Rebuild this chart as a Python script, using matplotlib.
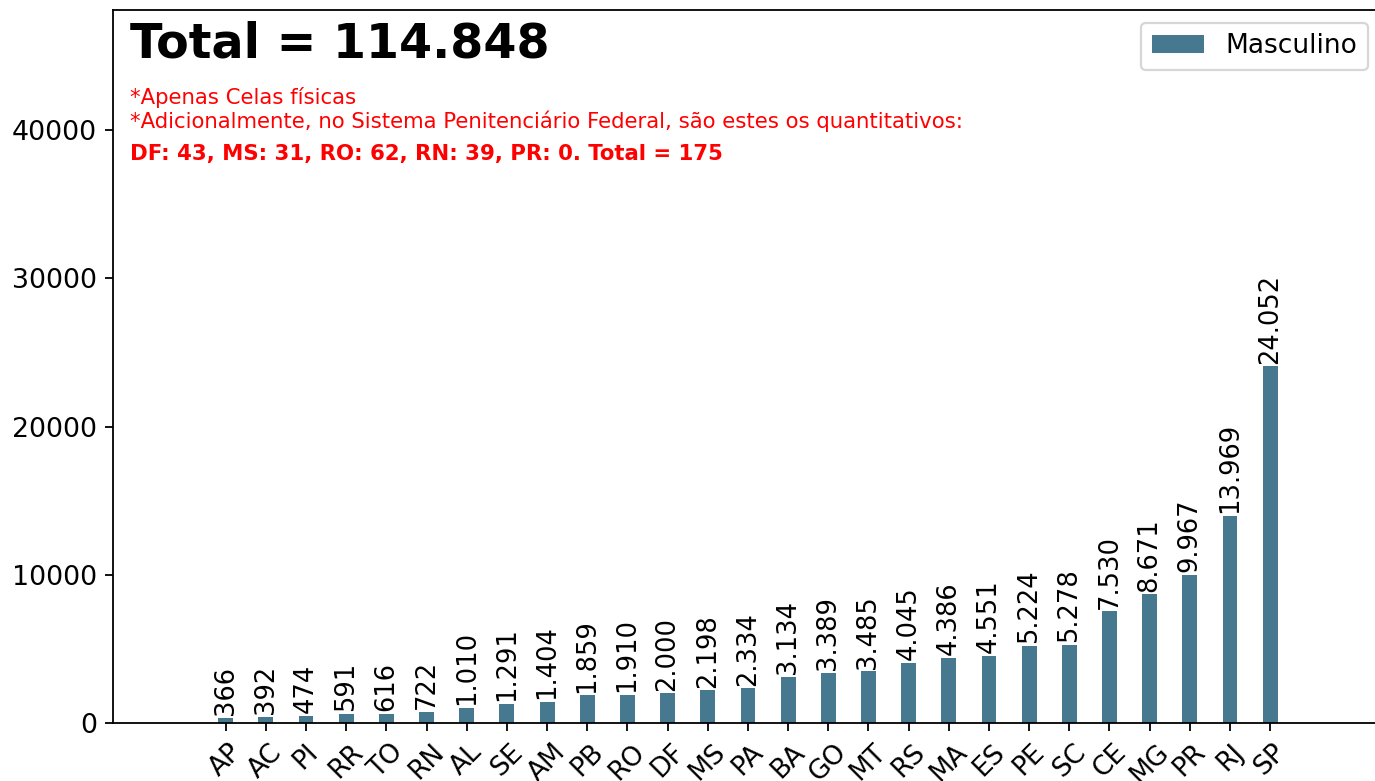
import numpy as np
import matplotlib.pyplot as plt

# dados (celas masculinas por UF)
ufs = ['AP', 'AC', 'PI', 'RR', 'TO', 'RN', 'AL', 'SE', 'AM', 'PB', 'RO', 'DF', 'MS', 'PA',
       'BA', 'GO', 'MT', 'RS', 'MA', 'ES', 'PE', 'SC', 'CE', 'MG', 'PR', 'RJ', 'SP']
masculino = [366, 392, 474, 591, 616, 722, 1010, 1291, 1404, 1859, 1910, 2000, 2198, 2334,
             3134, 3389, 3485, 4045, 4386, 4551, 5224, 5278, 7530, 8671, 9967, 13969, 24052]
yticks = [0, 10000, 20000, 30000, 40000]

nota1 = '*Apenas Celas físicas'
nota2 = '*Adicionalmente, no Sistema Penitenciário Federal, são estes os quantitativos:'
nota3 = 'DF: 43, MS: 31, RO: 62, RN: 39, PR: 0. Total = 175'


def fmt(v):
    return f'{v:,}'.replace(',', '.')


# escala ~1.6 (equivalente a dpi 160)
plt.rcParams['axes.linewidth'] = 1.3
plt.rcParams['xtick.major.size'] = 6
plt.rcParams['ytick.major.size'] = 6
plt.rcParams['xtick.major.width'] = 1.3
plt.rcParams['ytick.major.width'] = 1.3
plt.rcParams['xtick.major.pad'] = 5.6
plt.rcParams['ytick.major.pad'] = 5.6
plt.rcParams['legend.framealpha'] = 0.8

fig = plt.figure(figsize=(13.75, 7.81), dpi=100)
# eixo ultrapassa a borda direita da figura (como no original)
ax = fig.add_axes([0.0822, 0.0743, 0.9222, 0.9135])

x = np.arange(len(ufs))
bars = ax.bar(x, masculino, width=0.37, color='#46788f', label='Masculino')
ax.bar_label(bars, labels=[fmt(v) for v in masculino], rotation=90, padding=2, fontsize=18.5)

ax.set_xticks(x)
ax.set_xticklabels(ufs, rotation=45, fontsize=19)
ax.set_yticks(yticks)
ax.tick_params(axis='y', labelsize=19.3)
ax.set_xlim(-2.805, 28.76)
ax.set_ylim(0, 48130)

ax.text(0.0135, 0.951, f'Total = {fmt(sum(masculino))}', transform=ax.transAxes,
        fontsize=34.3, fontweight='bold', va='center', ha='left')
ax.text(0.0135, 0.876, nota1, transform=ax.transAxes, fontsize=15.3, color='red', va='center')
ax.text(0.0135, 0.844, nota2, transform=ax.transAxes, fontsize=15.3, color='red', va='center')
ax.text(0.0135, 0.797, nota3, transform=ax.transAxes, fontsize=15.3, color='red',
        fontweight='bold', va='center')

leg = ax.legend(loc='upper right', fontsize=19)
leg.get_frame().set_linewidth(1.6)

fig.savefig('out.png', dpi=100)
